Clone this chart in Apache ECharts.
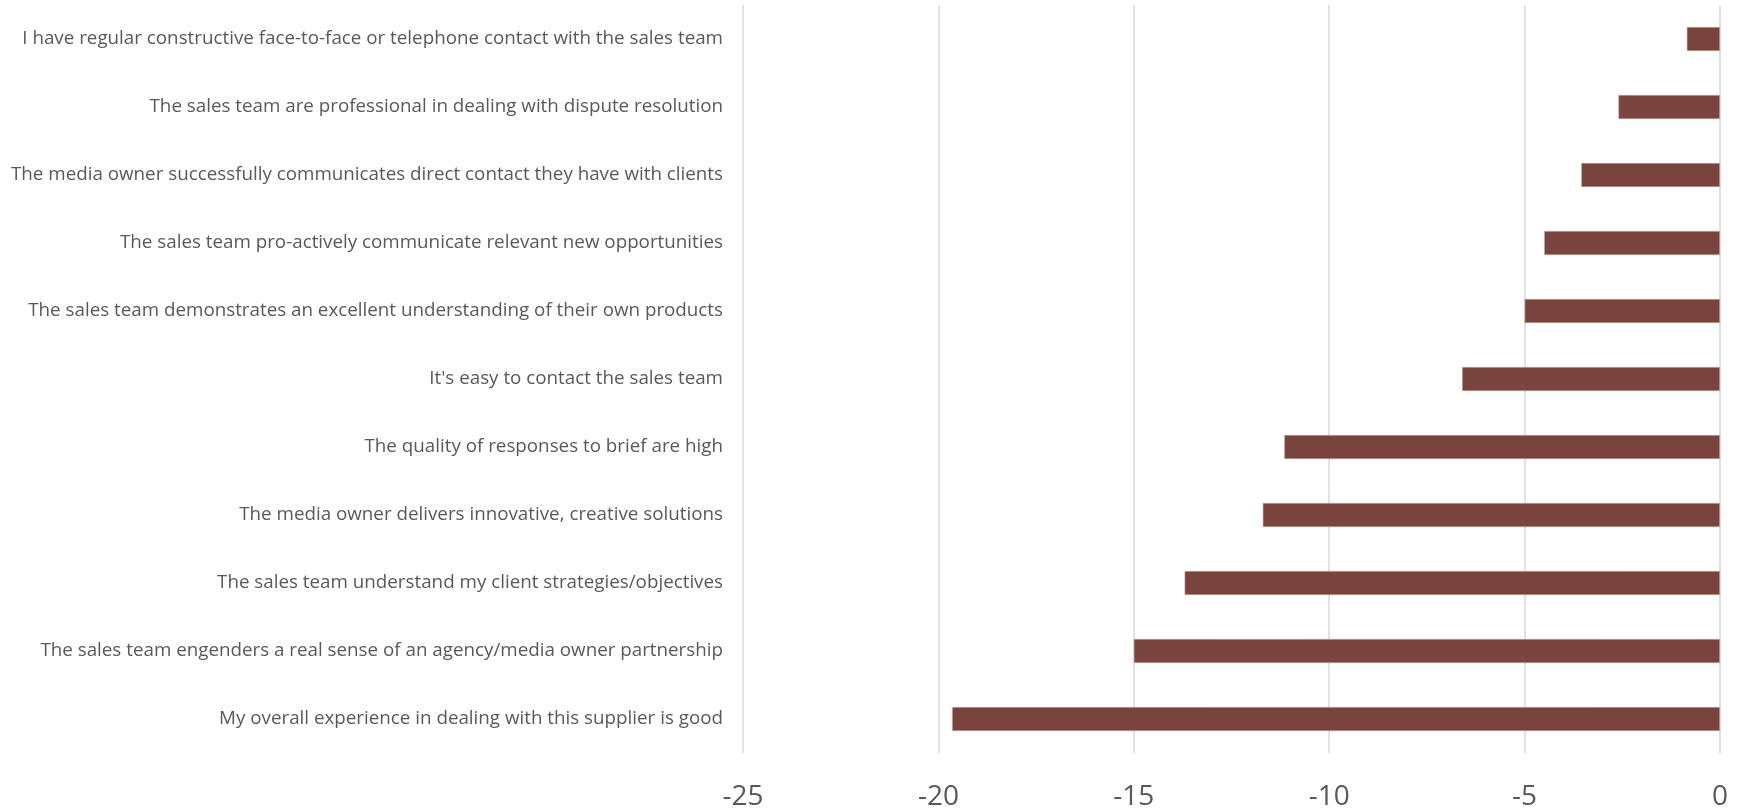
<!DOCTYPE html>
<html>
<head>
<meta charset="utf-8">
<script src="https://cdn.jsdelivr.net/npm/echarts@6/dist/echarts.min.js"></script>
<style>
  html, body { margin: 0; padding: 0; background: #ffffff; }
  #chart { width: 1741px; height: 811px; }
</style>
</head>
<body>
<div id="chart"></div>
<script>
// Survey statements, top to bottom
const statements = [
  "I have regular constructive face-to-face or telephone contact with the sales team",
  "The sales team are professional in dealing with dispute resolution",
  "The media owner successfully communicates direct contact they have with clients",
  "The sales team pro-actively communicate relevant new opportunities",
  "The sales team demonstrates an excellent understanding of their own products",
  "It's easy to contact the sales team",
  "The quality of responses to brief are high",
  "The media owner delivers innovative, creative solutions",
  "The sales team understand my client strategies/objectives",
  "The sales team engenders a real sense of an agency/media owner partnership",
  "My overall experience in dealing with this supplier is good"
];

// Net score per statement
const scores = [-0.85, -2.6, -3.55, -4.5, -5.0, -6.6, -11.15, -11.7, -13.7, -15.0, -19.65];

// Value axis range
const axisMin = -25;
const axisMax = 0;
const axisStep = 5;

const chart = echarts.init(document.getElementById('chart'), null, { renderer: 'canvas' });

chart.setOption({
  animation: false,
  backgroundColor: '#ffffff',
  grid: { left: 743, right: 21, top: 5, bottom: 57, containLabel: false },
  xAxis: {
    type: 'value',
    min: axisMin,
    max: axisMax,
    interval: axisStep,
    axisLine: { show: false },
    axisTick: { show: false },
    axisLabel: {
      color: '#595959',
      fontFamily: 'Open Sans',
      fontSize: 28,
      margin: 30
    },
    splitLine: { show: true, lineStyle: { color: '#d9d9d9', width: 1.5 } }
  },
  yAxis: {
    type: 'category',
    inverse: true,
    data: statements,
    axisLine: { show: false },
    axisTick: { show: false },
    axisLabel: {
      color: '#595959',
      fontFamily: 'Open Sans',
      fontSize: 18.8,
      margin: 20
    }
  },
  series: [{
    type: 'bar',
    data: scores,
    barWidth: 24,
    itemStyle: {
      color: '#7a443e',
      borderColor: '#c9a9a6',
      borderWidth: 0.6
    }
  }]
});
</script>
</body>
</html>
